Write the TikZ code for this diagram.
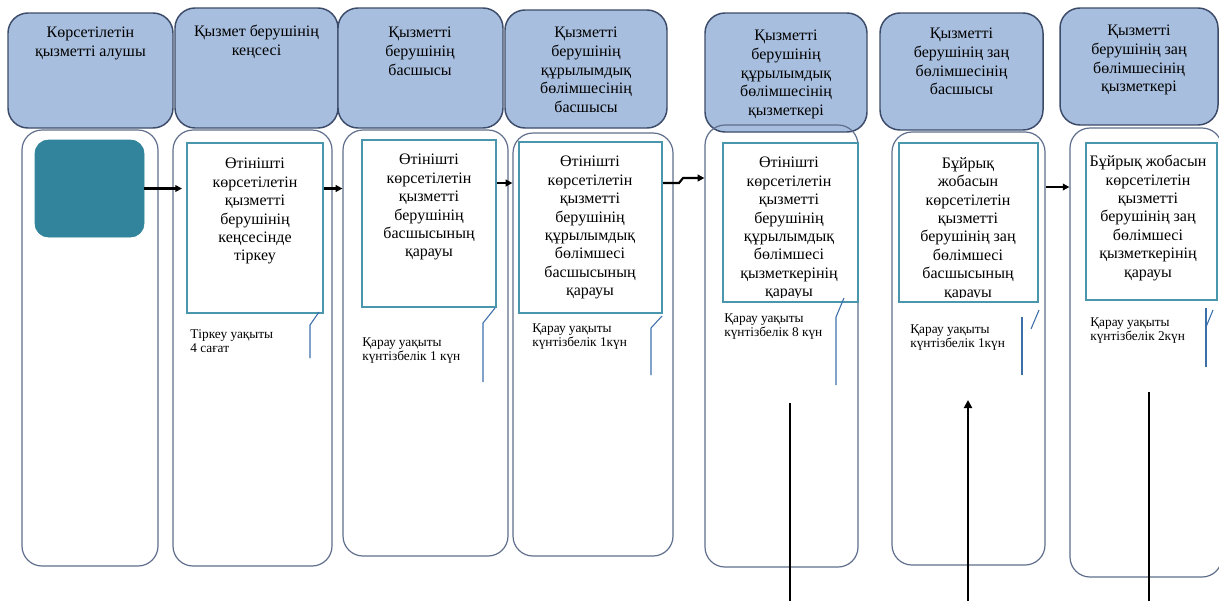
\documentclass[tikz,border=0pt]{standalone}
\usepackage{fontspec}
\setmainfont{Liberation Serif}
\usetikzlibrary{arrows.meta,fit,calc}
\definecolor{hdrfill}{RGB}{167,190,222}
\definecolor{hdrline}{RGB}{60,75,105}
\definecolor{bodyline}{RGB}{95,110,140}
\definecolor{boxline}{RGB}{74,150,172}
\definecolor{tealfill}{RGB}{49,132,155}
\definecolor{callline}{RGB}{60,110,170}
\begin{document}
\begin{tikzpicture}[x=0.75pt,y=-0.75pt,
 hdr/.style={draw=hdrline, fill=hdrfill, line width=1.1pt, rounded corners=15pt, inner sep=0pt},
 lane/.style={draw=bodyline, line width=0.9pt, rounded corners=15pt, inner sep=0pt},
 stepbox/.style={draw=boxline, fill=white, line width=1.5pt, inner sep=0pt},
 startbox/.style={fill=tealfill, draw=tealfill, rounded corners=10pt, inner sep=0pt},
 htxt/.style={anchor=north, align=center, font=\fontsize{12}{14}\selectfont, inner sep=0pt},
 btxt/.style={anchor=north, align=center, font=\fontsize{12}{13.8}\selectfont, inner sep=0pt},
 ntxt/.style={anchor=north west, align=left, font=\fontsize{10}{10.5}\selectfont, inner sep=0pt},
 arr/.style={line width=1.6pt, -{Triangle[length=5pt,width=5pt]}},
 bar/.style={line width=2.2pt},
 call/.style={draw=callline, line width=0.8pt}]
\useasboundingbox (0,0) rectangle (1219,601);

% headers
\node[hdr, fit={(8,13) (173,128)}] (h1) {};
\node[hdr, fit={(175,8) (338,128)}] (h2) {};
\node[hdr, fit={(338,8) (503,128)}] (h3) {};
\node[hdr, fit={(505,10) (667,128)}] (h4) {};
\node[hdr, fit={(705,13) (867,132)}] (h5) {};
\node[hdr, fit={(880,13) (1043,130)}] (h6) {};
\node[hdr, fit={(1060,8) (1218,125)}] (h7) {};
\node[htxt] (h1t) at (90.5,27) {Көрсетілетін\\қызметті алушы};
\node[htxt] (h2t) at (256.5,25) {Қызмет берушінің\\кеңсесі};
\node[htxt] (h3t) at (420,27) {Қызметті\\берушінің\\басшысы};
\node[htxt] (h4t) at (586,27) {Қызметті\\берушінің\\құрылымдық\\бөлімшесінің\\басшысы};
\node[htxt] (h5t) at (786,30) {Қызметті\\берушінің\\құрылымдық\\бөлімшесінің\\қызметкері};
\node[htxt] (h6t) at (961.5,28) {Қызметті\\берушінің заң\\бөлімшесінің\\басшысы};
\node[htxt] (h7t) at (1139,25) {Қызметті\\берушінің заң\\бөлімшесінің\\қызметкері};

% lanes
\node[lane, fit={(22,130) (158,566)}] (L1) {};
\node[lane, fit={(173,130) (332,566)}] (L2) {};
\node[lane, fit={(343,130) (508,556)}] (L3) {};
\node[lane, fit={(513,133) (673,556)}] (L4) {};
\node[lane, fit={(705,125) (858,567)}] (L5) {};
\node[lane, fit={(892,132) (1045,565)}] (L6) {};
\node[lane, fit={(1070,128) (1222,577)}] (L7) {};

% start
\node[startbox, fit={(35,140) (144,237)}] (t1) {};

% step boxes
\node[stepbox, fit={(187,143) (323,313)}] (b2) {};
\node[stepbox, fit={(362,140) (496,307)}] (b3) {};
\node[stepbox, fit={(519,142) (662,313)}] (b4) {};
\node[stepbox, fit={(723,143) (858,302)}] (b5) {};
\node[stepbox, fit={(899,143) (1038,302)}] (b6) {};
\node[stepbox, fit={(1086,143) (1217,300)}] (b7) {};

\node[btxt] (b2t) at (255,158) {Өтінішті\\көрсетілетін\\қызметті\\берушінің\\кеңсесінде\\тіркеу};
\node[btxt] (b3t) at (429,154) {Өтінішті\\көрсетілетін\\қызметті\\берушінің\\басшысының\\қарауы};
\node[btxt] (b4t) at (590,156) {Өтінішті\\көрсетілетін\\қызметті\\берушінің\\құрылымдық\\бөлімшесі\\басшысының\\қарауы};
\begin{scope}
\clip (723,143) rectangle (1038,297);
\node[btxt] (b5t) at (789,157) {Өтінішті\\көрсетілетін\\қызметті\\берушінің\\құрылымдық\\бөлімшесі\\қызметкерінің\\қарауы};
\node[btxt] (b6t) at (968,157) {Бұйрық\\жобасын\\көрсетілетін\\қызметті\\берушінің заң\\бөлімшесі\\басшысының\\қарауы};
\end{scope}
\node[btxt] (b7t) at (1148,155) {Бұйрық жобасын\\көрсетілетін\\қызметті\\берушінің заң\\бөлімшесі\\қызметкерінің\\қарауы};

% notes
\node[ntxt] (n2) at (190,329) {Тіркеу уақыты\\4 сағат};
\node[ntxt] (n3) at (362,337) {Қарау уақыты\\күнтізбелік 1 күн};
\node[ntxt] (n4) at (532,323) {Қарау уақыты\\күнтізбелік 1күн};
\node[ntxt] (n5) at (724,313) {Қарау уақыты\\күнтізбелік 8 күн};
\node[ntxt] (n6) at (910,324) {Қарау уақыты\\күнтізбелік 1күн};
\node[ntxt] (n7) at (1090,317) {Қарау уақыты\\күнтізбелік 2күн};

% callout lines
\draw[call] (319,312) -- (310,325) -- (310,358);
\draw[call] (495,308) -- (483,323) -- (483,382);
\draw[call] (662,316) -- (651,328) -- (651,375);
\draw[call] (844,298) -- (836,317) -- (836,385);
\draw[call] (1039,310) -- (1031,329);
\draw[call] (1022,317) -- (1022,375);
\draw[call] (1213,310) -- (1206,327);
\draw[call] (1206,308) -- (1206,367);

% arrows
\draw[arr, shorten >=3pt] (t1.east) -- (t1.east -| b2.west);
\draw[arr] (b2.east |- t1.east) -- (L3.west |- t1.east);
\draw[arr] (b3.east |- 0,183) -- (L4.west |- 0,183);
\draw[arr] (b4.east |- 0,183) -- (679,183) -- (683,178) -- (L5.west |- 0,178);
\draw[arr] (L6.east |- 0,187) -- (L7.west |- 0,187);

% vertical bars
\coordinate (v1t) at (790,403);
\coordinate (v1b) at (790,601);
\coordinate (v2t) at (968,400);
\coordinate (v2b) at (968,601);
\coordinate (v3t) at (1149,392);
\coordinate (v3b) at (1149,601);
\draw[bar] (v1t) -- (v1b);
\draw[bar, -{Triangle[length=6pt,width=6pt]}] (v2b) -- (v2t);
\draw[bar] (v3t) -- (v3b);
\end{tikzpicture}
\end{document}
